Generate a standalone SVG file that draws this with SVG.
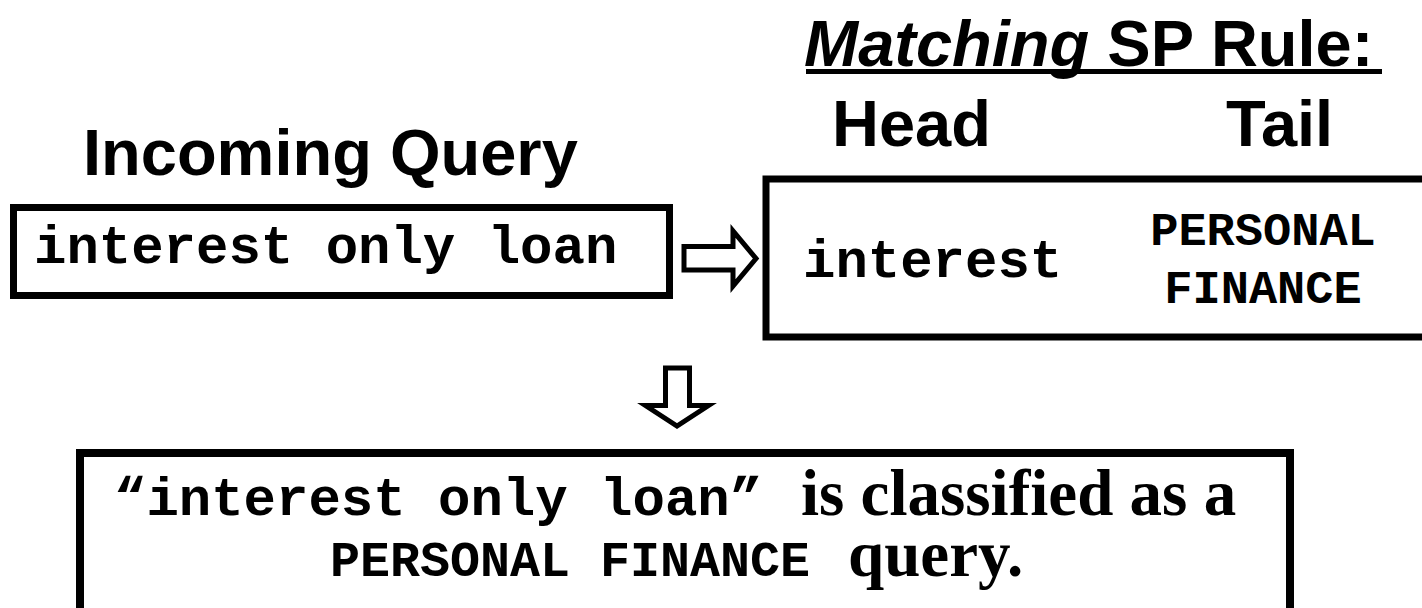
<svg xmlns="http://www.w3.org/2000/svg" width="1422" height="608" viewBox="0 0 1422 608">
  <style>
    .hdr { font-family: "Liberation Sans", Arial, sans-serif; font-weight: bold; font-size: 65px; fill: #000; }
    .mono { font-family: "Courier New", "Liberation Mono", monospace; font-weight: bold; fill: #000; }
    .serif { font-family: "Liberation Serif", "Times New Roman", serif; font-weight: bold; font-size: 65px; fill: #000; }
    .box { fill: #fff; stroke: #000; stroke-width: 7; }
    .arrow { fill: #fff; stroke: #000; stroke-width: 5; stroke-linejoin: miter; }
  </style>
  <rect width="1422" height="608" fill="#fff"/>

  <!-- headings -->
  <g id="headings">
    <text class="hdr" x="83" y="175">Incoming Query</text>
    <text class="hdr" x="804" y="66"><tspan font-style="italic">Matching</tspan> SP Rule:</text>
    <rect x="806" y="69" width="576" height="5" fill="#000"/>
    <text class="hdr" x="832" y="146">Head</text>
    <text class="hdr" x="1226" y="146">Tail</text>
  </g>

  <!-- incoming query -->
  <g id="query">
    <rect class="box" x="13.5" y="207.5" width="656" height="88"/>
    <text class="mono" font-size="54" x="34" y="263">interest only loan</text>
  </g>

  <!-- matching rule: head and tail -->
  <g id="rule">
    <rect class="box" x="766" y="179" width="700" height="158"/>
    <text class="mono" font-size="54" x="803" y="277">interest</text>
    <text class="mono" font-size="47" text-anchor="middle" x="1263" y="245">PERSONAL</text>
    <text class="mono" font-size="47" text-anchor="middle" x="1263" y="303">FINANCE</text>
  </g>

  <!-- classification result -->
  <g id="result">
    <rect x="80" y="453" width="1210" height="160" fill="#fff" stroke="#000" stroke-width="8"/>
    <text y="515"><tspan class="mono" font-size="54" x="114">“interest only loan”</tspan><tspan class="serif" x="801">is classified as a</tspan></text>
    <text y="576"><tspan class="mono" font-size="50" x="330">PERSONAL FINANCE</tspan><tspan class="serif" x="848">query.</tspan></text>
  </g>

  <!-- block arrows -->
  <g id="connectors">
    <polygon class="arrow" points="684,246.5 733,246.5 733,231 756,258.5 733,286 733,270 684,270"/>
    <polygon class="arrow" points="665.5,368 689.5,368 689.5,405.5 708.5,405.5 677,426 645.5,405.5 665.5,405.5"/>
  </g>
</svg>
